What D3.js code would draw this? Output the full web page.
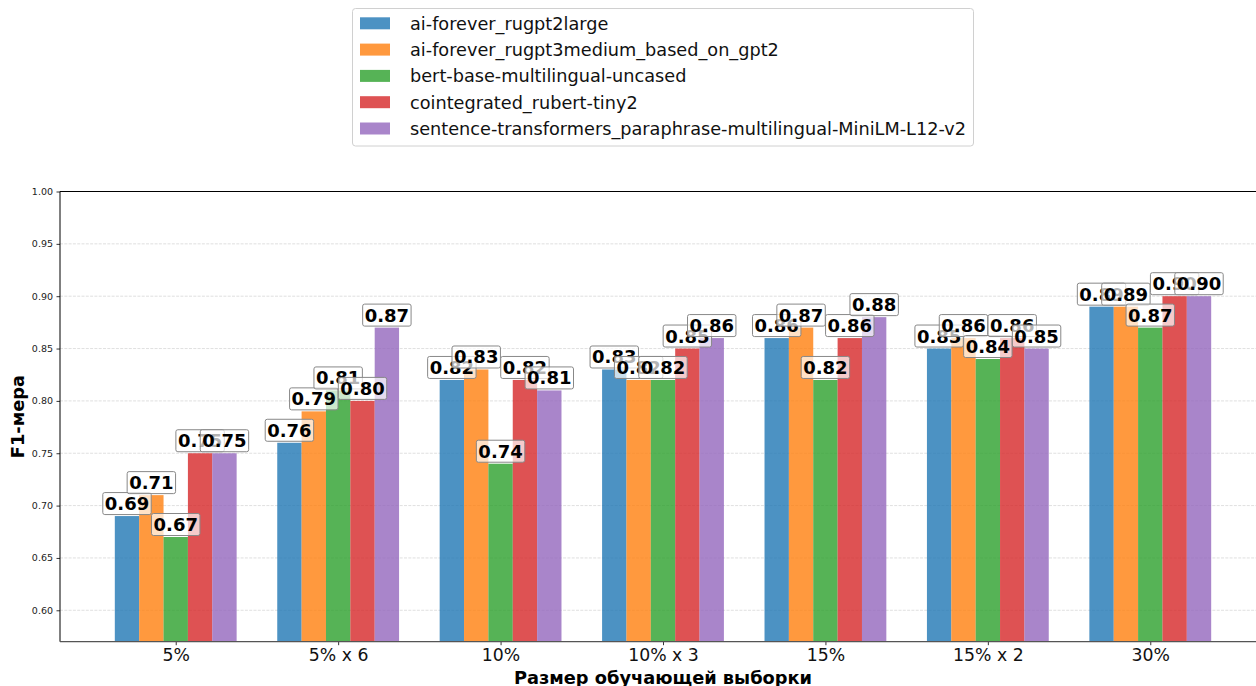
<!DOCTYPE html>
<html>
<head>
<meta charset="utf-8">
<script src="https://cdn.jsdelivr.net/npm/d3@7"></script>
<style>
  body { margin: 0; background: #fff; }
  svg { display: block; font-family: "DejaVu Sans", sans-serif; }
</style>
</head>
<body>
<svg id="chart" width="1256" height="686"></svg>
<script>
const categories = ["5%", "5% x 6", "10%", "10% x 3", "15%", "15% x 2", "30%"];
const seriesNames = [
  "ai-forever_rugpt2large",
  "ai-forever_rugpt3medium_based_on_gpt2",
  "bert-base-multilingual-uncased",
  "cointegrated_rubert-tiny2",
  "sentence-transformers_paraphrase-multilingual-MiniLM-L12-v2"
];
const rugpt2large  = [0.69, 0.76, 0.82, 0.83, 0.86, 0.85, 0.89];
const rugpt3medium = [0.71, 0.79, 0.83, 0.82, 0.87, 0.86, 0.89];
const bertBase     = [0.67, 0.81, 0.74, 0.82, 0.82, 0.84, 0.87];
const rubertTiny2  = [0.75, 0.80, 0.82, 0.85, 0.86, 0.86, 0.90];
const miniLM       = [0.75, 0.87, 0.81, 0.86, 0.88, 0.85, 0.90];
const seriesValues = [rugpt2large, rugpt3medium, bertBase, rubertTiny2, miniLM];
const colors = ["#1f77b4", "#ff7f0e", "#2ca02c", "#d62728", "#9467bd"];
const yTicks = [0.60, 0.65, 0.70, 0.75, 0.80, 0.85, 0.90, 0.95, 1.00];
const xTitle = "Размер обучающей выборки";
const yTitle = "F1-мера";

(function () {
const svg = d3.select("#chart");
const pL = 60, pR = 1266, pT = 191.5, pB = 641.7;
const barW = 0.15;
const x = d3.scaleLinear().domain([-0.7125, 6.7125]).range([pL, pR]);
const y = d3.scaleLinear().domain([0.57, 1.0]).range([pB, pT]);

// grid
svg.append("g").selectAll("line").data(yTicks).join("line")
  .attr("x1", pL).attr("x2", pR)
  .attr("y1", d => y(d)).attr("y2", d => y(d))
  .attr("stroke", "#d8d8d8").attr("stroke-width", 0.8)
  .attr("stroke-dasharray", "3,1.3");

// bars
const bw = x(barW) - x(0);
seriesValues.forEach((vals, j) => {
  svg.append("g").selectAll("rect").data(vals).join("rect")
    .attr("x", (d, i) => x(i + (j - 2) * barW) - bw / 2)
    .attr("width", bw)
    .attr("y", d => y(d))
    .attr("height", d => pB - y(d))
    .attr("fill", colors[j]).attr("fill-opacity", 0.8);
});

// axes
const yAxis = svg.append("g").attr("transform", `translate(${pL},0)`)
  .call(d3.axisLeft(y).tickValues(yTicks).tickFormat(d3.format(".2f")).tickSize(3.5).tickPadding(3.5));
yAxis.select(".domain").remove();
yAxis.selectAll("text").attr("font-size", "9.5px").attr("fill", "#222").attr("font-family", "DejaVu Sans");
yAxis.selectAll("line").attr("stroke", "#000").attr("stroke-width", 0.8);

const xAxis = svg.append("g").attr("transform", `translate(0,${pB})`)
  .call(d3.axisBottom(x).tickValues(d3.range(categories.length)).tickFormat(i => categories[i]).tickSize(3.5).tickPadding(4));
xAxis.select(".domain").remove();
xAxis.selectAll("text").attr("font-size", "17.3px").attr("fill", "#111").attr("font-family", "DejaVu Sans");
xAxis.selectAll("line").attr("stroke", "#000").attr("stroke-width", 0.8);

// spines
svg.append("line").attr("x1", pL).attr("x2", pL).attr("y1", pT).attr("y2", pB).attr("stroke", "#000").attr("stroke-width", 1);
svg.append("line").attr("x1", pL).attr("x2", pR).attr("y1", pT).attr("y2", pT).attr("stroke", "#000").attr("stroke-width", 1);
svg.append("line").attr("x1", pL).attr("x2", pR).attr("y1", pB).attr("y2", pB).attr("stroke", "#555").attr("stroke-width", 1.2);
svg.append("line").attr("x1", pR).attr("x2", pR).attr("y1", pT).attr("y2", pB).attr("stroke", "#000").attr("stroke-width", 1);

// value labels
const fmt = d3.format(".2f");
seriesValues.forEach((vals, j) => {
  vals.forEach((v, i) => {
    const cx = x(i + (j - 2) * barW);
    const base = y(v) - 6;
    const g = svg.append("g");
    const t = g.append("text").attr("x", cx).attr("y", base)
      .attr("text-anchor", "middle").attr("font-size", "18px").attr("font-weight", "bold")
      .attr("fill", "#000").text(fmt(v));
    const bb = t.node().getBBox();
    g.insert("rect", "text")
      .attr("x", bb.x - 2).attr("width", bb.width + 4)
      .attr("y", base - 17.5).attr("height", 22)
      .attr("rx", 2).attr("fill", "#fff").attr("fill-opacity", 0.7)
      .attr("stroke", "#888").attr("stroke-width", 1);
  });
});

// axis titles
svg.append("text").attr("x", (pL + pR) / 2).attr("y", 684)
  .attr("text-anchor", "middle").attr("font-size", "17.8px").attr("font-weight", "bold").text(xTitle);
svg.append("text").attr("transform", `translate(24,${(pT + pB) / 2}) rotate(-90)`)
  .attr("text-anchor", "middle").attr("font-size", "17.8px").attr("font-weight", "bold").text(yTitle);

// legend
const lg = svg.append("g");
lg.append("rect").attr("x", 352.5).attr("y", 8.5).attr("width", 621).attr("height", 137.5)
  .attr("rx", 3).attr("fill", "#fff").attr("stroke", "#d0d0d0").attr("stroke-width", 1);
seriesNames.forEach((name, j) => {
  const cy = 23.3 + j * 26.3;
  lg.append("rect").attr("x", 360).attr("y", cy - 6).attr("width", 30).attr("height", 12)
    .attr("fill", colors[j]).attr("fill-opacity", 0.8);
  lg.append("text").attr("x", 410).attr("y", cy + 6.3).attr("font-size", "17.7px").attr("fill", "#111").text(name);
});
})();
</script>
</body>
</html>
